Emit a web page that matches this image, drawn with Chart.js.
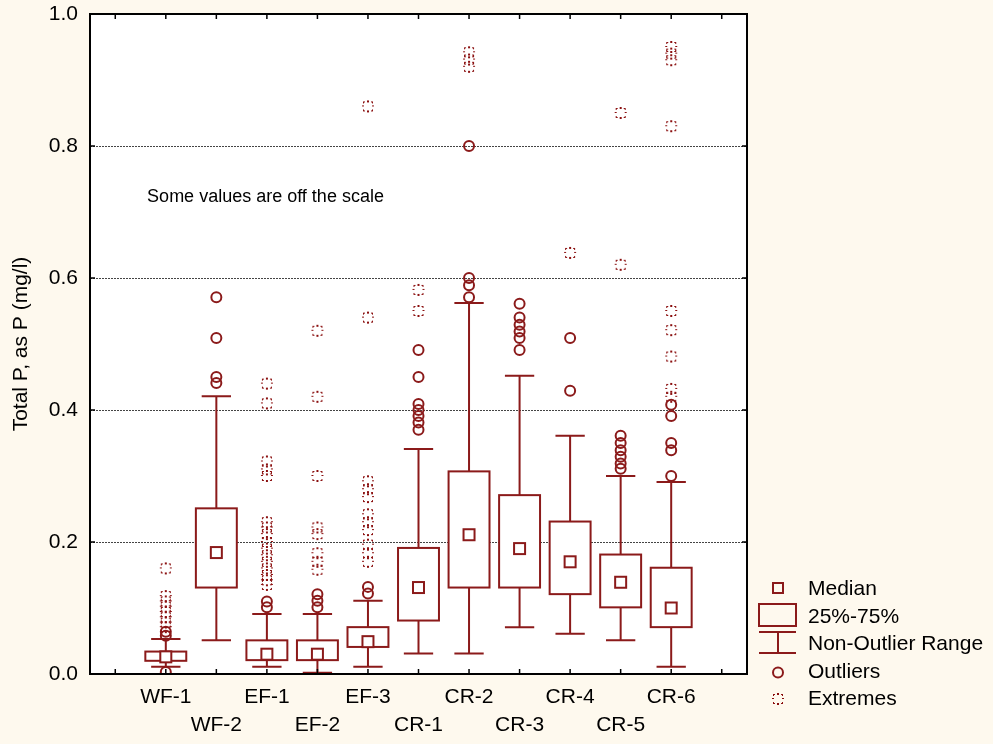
<!DOCTYPE html>
<html><head><meta charset="utf-8">
<script src="https://cdn.jsdelivr.net/npm/chart.js@4.4.0/dist/chart.umd.min.js"></script>
<style>html,body{margin:0;padding:0;background:#fef9ee;}#wrap{width:993px;height:744px;position:relative;}</style>
</head><body><div id="wrap"><canvas id="c"></canvas></div>
<script>
// ---- data ----
const categories = ['WF-1','WF-2','EF-1','EF-2','EF-3','CR-1','CR-2','CR-3','CR-4','CR-5','CR-6'];
const medians  = [0.026, 0.184, 0.030, 0.030, 0.049, 0.131, 0.211, 0.190, 0.170, 0.139, 0.100];
const q1       = [0.020, 0.131, 0.021, 0.021, 0.041, 0.081, 0.131, 0.131, 0.121, 0.101, 0.071];
const q3       = [0.034, 0.251, 0.051, 0.051, 0.071, 0.191, 0.307, 0.271, 0.231, 0.181, 0.161];
const whiskLo  = [0.011, 0.051, 0.011, 0.002, 0.011, 0.031, 0.031, 0.071, 0.061, 0.051, 0.011];
const whiskHi  = [0.053, 0.421, 0.091, 0.091, 0.111, 0.341, 0.562, 0.452, 0.361, 0.300, 0.291];
const outliers = [
  [0.058, 0.064, 0.003],
  [0.571, 0.509, 0.450, 0.441],
  [0.110, 0.101],
  [0.121, 0.111, 0.101],
  [0.132, 0.122],
  [0.491, 0.450, 0.409, 0.400, 0.391, 0.381, 0.370],
  [0.800, 0.600, 0.589, 0.571],
  [0.561, 0.540, 0.529, 0.519, 0.509, 0.491],
  [0.509, 0.429],
  [0.361, 0.350, 0.339, 0.329, 0.319, 0.311],
  [0.408, 0.391, 0.350, 0.339, 0.300]
];
const extremes = [
  [0.160, 0.118, 0.110, 0.102, 0.094, 0.086, 0.078, 0.071],
  [],
  [0.440, 0.410, 0.322, 0.310, 0.300, 0.230, 0.222, 0.212, 0.200, 0.190, 0.180, 0.170, 0.160, 0.150, 0.142, 0.135],
  [0.520, 0.420, 0.300, 0.222, 0.212, 0.183, 0.170, 0.158],
  [0.860, 0.540, 0.292, 0.280, 0.268, 0.242, 0.230, 0.218, 0.196, 0.183, 0.170],
  [0.582, 0.550],
  [0.942, 0.931, 0.920],
  [],
  [0.638],
  [0.850, 0.620],
  [0.950, 0.940, 0.930, 0.830, 0.550, 0.521, 0.481, 0.432, 0.420]
];
const yTicks = [0, 0.2, 0.4, 0.6, 0.8, 1.0];
const xTicks = [-1, 0, 1, 2, 3, 4, 5, 6, 7, 8, 9, 10, 11];
const legendLabels = ['Median', '25%-75%', 'Non-Outlier Range', 'Outliers', 'Extremes'];
const noteText = 'Some values are off the scale';
const yTitle = 'Total P, as P (mg/l)';

// ---- style ----
const RED = '#8b1a1a';
const FONT = '"Liberation Sans", Arial, Helvetica, sans-serif';
const BG = '#fef9ee';

function extremeGlyph() {
  const c = document.createElement('canvas'); c.width = 14; c.height = 14;
  const g = c.getContext('2d'); g.fillStyle = '#8b1010';
  // 8 small dashes around a ~12px square
  const d = [[2,2,2,1],[6,1,2,2],[10,2,2,1],[1,6,2,1],[11,6,2,1],[2,11,2,1],[6,11,2,2],[10,11,2,1],
             [2,3,1,1],[11,3,1,1],[2,10,1,1],[11,10,1,1]];
  d.forEach(r => g.fillRect(r[0], r[1], r[2], r[3]));
  return c;
}
const GLYPH = extremeGlyph();

const outlierPts = [], extremePts = [];
outliers.forEach((arr, i) => arr.forEach(v => outlierPts.push({x: i, y: v})));
extremes.forEach((arr, i) => arr.forEach(v => extremePts.push({x: i, y: v})));

const BOX_HALF = 0.405, CAP_HALF = 0.29, MED = 11;

const boxPlugin = {
  id: 'boxes',
  beforeDraw(chart) {
    const {ctx, chartArea: a} = chart;
    ctx.save();
    ctx.fillStyle = BG; ctx.fillRect(0, 0, chart.width, chart.height);
    ctx.fillStyle = '#fff'; ctx.fillRect(a.left, a.top, a.right - a.left, a.bottom - a.top);
    ctx.restore();
  },
  beforeDatasetsDraw(chart) {
    const {ctx, chartArea: a, scales: {x, y}} = chart;
    ctx.save();
    // grid
    ctx.strokeStyle = '#444'; ctx.lineWidth = 1; ctx.setLineDash([2, 1]);
    yTicks.slice(1, -1).forEach(v => {
      const py = Math.round(y.getPixelForValue(v)) + 0.5;
      ctx.beginPath(); ctx.moveTo(a.left, py); ctx.lineTo(a.right, py); ctx.stroke();
    });
    ctx.setLineDash([]);
    // boxes
    ctx.strokeStyle = RED; ctx.lineWidth = 2;
    categories.forEach((c, i) => {
      const cx = x.getPixelForValue(i);
      const bl = x.getPixelForValue(i - BOX_HALF), br = x.getPixelForValue(i + BOX_HALF);
      const cl = x.getPixelForValue(i - CAP_HALF), cr = x.getPixelForValue(i + CAP_HALF);
      const yq1 = y.getPixelForValue(q1[i]), yq3 = y.getPixelForValue(q3[i]);
      const ylo = y.getPixelForValue(whiskLo[i]), yhi = y.getPixelForValue(whiskHi[i]);
      const ym = y.getPixelForValue(medians[i]);
      ctx.beginPath();
      ctx.moveTo(cx, yq1); ctx.lineTo(cx, ylo);
      ctx.moveTo(cx, yq3); ctx.lineTo(cx, yhi);
      ctx.moveTo(cl, ylo); ctx.lineTo(cr, ylo);
      ctx.moveTo(cl, yhi); ctx.lineTo(cr, yhi);
      ctx.stroke();
      ctx.fillStyle = '#fff';
      ctx.fillRect(bl, yq3, br - bl, yq1 - yq3);
      ctx.strokeRect(bl, yq3, br - bl, yq1 - yq3);
      ctx.fillRect(cx - MED / 2, ym - MED / 2, MED, MED);
      ctx.strokeRect(cx - MED / 2, ym - MED / 2, MED, MED);
    });
    // note
    ctx.fillStyle = '#000'; ctx.font = '18px ' + FONT;
    ctx.textAlign = 'left'; ctx.textBaseline = 'middle';
    ctx.fillText(noteText, x.getPixelForValue(-0.37), y.getPixelForValue(0.723));
    ctx.restore();
  },
  afterDraw(chart) {
    const {ctx, chartArea: a, scales: {x, y}} = chart;
    ctx.save();
    ctx.strokeStyle = '#000'; ctx.lineWidth = 2;
    ctx.strokeRect(a.left, a.top, a.right - a.left, a.bottom - a.top);
    ctx.lineWidth = 1.5;
    ctx.beginPath();
    yTicks.forEach(v => {
      const py = y.getPixelForValue(v);
      ctx.moveTo(a.left, py); ctx.lineTo(a.left + 5, py);
      ctx.moveTo(a.right, py); ctx.lineTo(a.right - 5, py);
    });
    xTicks.forEach(v => {
      const px = x.getPixelForValue(v);
      ctx.moveTo(px, a.top); ctx.lineTo(px, a.top + 5);
      ctx.moveTo(px, a.bottom); ctx.lineTo(px, a.bottom - 5);
    });
    ctx.stroke();
    // legend
    const lx = a.right + 31;
    ctx.strokeStyle = RED; ctx.lineWidth = 2;
    ctx.strokeRect(lx - 5, 583, 10, 10);
    ctx.strokeRect(lx - 19, 604, 37, 22);
    ctx.beginPath();
    ctx.moveTo(lx - 19, 632); ctx.lineTo(lx + 18, 632);
    ctx.moveTo(lx - 19, 653); ctx.lineTo(lx + 18, 653);
    ctx.moveTo(lx, 632); ctx.lineTo(lx, 653);
    ctx.stroke();
    ctx.beginPath(); ctx.arc(lx, 672.5, 5, 0, Math.PI * 2); ctx.stroke();
    ctx.drawImage(GLYPH, Math.round(lx - 7), 699 - 7);
    ctx.fillStyle = '#000'; ctx.font = '21px ' + FONT;
    ctx.textAlign = 'left'; ctx.textBaseline = 'middle';
    const ys = [589, 617, 644, 672, 699];
    legendLabels.forEach((t, k) => ctx.fillText(t, lx + 30, ys[k]));
    ctx.restore();
  }
};

new Chart(document.getElementById('c'), {
  type: 'scatter',
  data: {
    datasets: [
      {label: 'Extremes', data: extremePts, pointStyle: GLYPH, pointRadius: 7, showLine: false},
      {label: 'Outliers', data: outlierPts, pointStyle: 'circle', pointRadius: 5, pointBorderWidth: 2,
       pointBorderColor: RED, pointBackgroundColor: 'rgba(0,0,0,0)', showLine: false}
    ]
  },
  options: {
    responsive: true, maintainAspectRatio: false, animation: false,
    events: [],
    layout: {padding: {top: 14, right: 246, left: 0, bottom: 0}},
    plugins: {legend: {display: false}, tooltip: {enabled: false}},
    scales: {
      x: {
        type: 'linear', min: -1.5, max: 11.5,
        afterBuildTicks: s => { s.ticks = xTicks.map(v => ({value: v})); },
        afterFit: s => { s.height = 70; s.paddingLeft = 0; s.paddingRight = 0; },
        grid: {display: false, drawTicks: false}, border: {display: false},
        ticks: {
          autoSkip: false, maxRotation: 0, minRotation: 0, padding: 9, color: '#000',
          font: {family: FONT, size: 21, lineHeight: 28 / 21},
          callback: (v) => {
            const i = Math.round(v);
            if (i < 0 || i >= categories.length) return '';
            return i % 2 === 0 ? [categories[i]] : ['', categories[i]];
          }
        }
      },
      y: {
        type: 'linear', min: 0, max: 1,
        afterBuildTicks: s => { s.ticks = yTicks.map(v => ({value: v})); },
        afterFit: s => { s.width = 90; s.paddingTop = 0; s.paddingBottom = 0; },
        grid: {display: false, drawTicks: false}, border: {display: false},
        ticks: {padding: 12, color: '#000', font: {family: FONT, size: 21},
                callback: v => Number(v).toFixed(1)},
        title: {display: true, text: yTitle, color: '#000', font: {family: FONT, size: 21},
                padding: {top: 9, bottom: 0}}
      }
    }
  },
  plugins: [boxPlugin]
});
</script></body></html>
